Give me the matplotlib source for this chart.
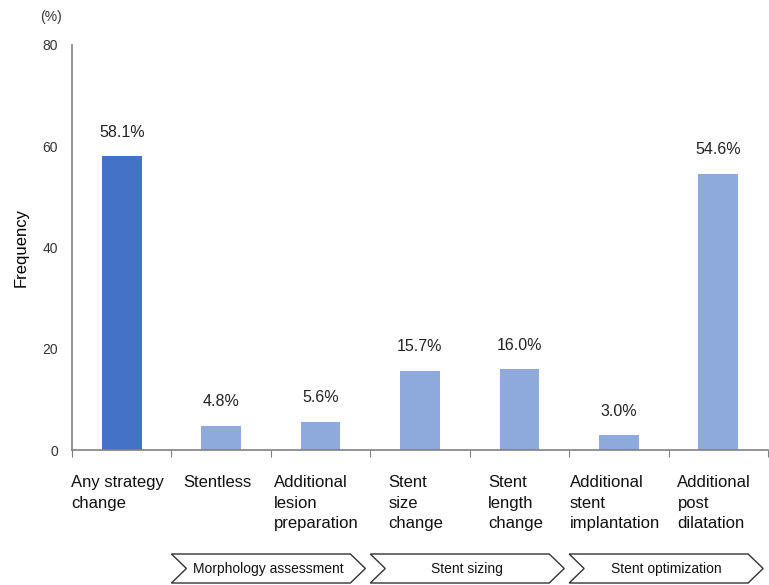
import matplotlib.pyplot as plt
from matplotlib.patches import Polygon
import numpy as np

plt.rcParams['font.family'] = ['Liberation Sans', 'DejaVu Sans']

categories = ["Any strategy\nchange", "Stentless", "Additional\nlesion\npreparation",
              "Stent\nsize\nchange", "Stent\nlength\nchange", "Additional\nstent\nimplantation",
              "Additional\npost\ndilatation"]
values = [58.1, 4.8, 5.6, 15.7, 16.0, 3.0, 54.6]
bar_colors = ["#4472C4"] + ["#8EA9DB"] * 6
groups = ["Morphology assessment", "Stent sizing", "Stent optimization"]
group_start = [1, 3, 5]

fig = plt.figure(figsize=(7.69, 5.85), dpi=100)
ax = fig.add_axes([72 / 769, 135 / 585, 696 / 769, 405 / 585])

x = np.arange(len(values))
ax.bar(x, values, width=0.4, color=bar_colors, zorder=2)
for xi, v in zip(x, values):
    ax.text(xi, v + 3.2, f"{v:.1f}%", ha="center", va="bottom", fontsize=11.5, color="#222222")

ax.set_xlim(-0.5, len(values) - 0.5)
ax.set_ylim(0, 80)
ax.set_yticks([0, 20, 40, 60, 80])
ax.tick_params(axis="y", length=0, pad=10, labelsize=10, labelcolor="#333333")

# category boundaries carry the x tick marks; labels sit under each bar
ax.set_xticks(np.arange(len(values) + 1) - 0.5)
ax.set_xticklabels([])
ax.tick_params(axis="x", direction="out", length=5, color="#808080")
for xi, lab in zip(x, categories):
    ax.text(xi - 0.04, -5, lab, ha="center", va="top", multialignment="left",
            fontsize=12, color="#111111", linespacing=1.45)

for side in ["top", "right"]:
    ax.spines[side].set_visible(False)
for side in ["left", "bottom"]:
    ax.spines[side].set_color("#808080")
    ax.spines[side].set_linewidth(1.2)

ax.set_ylabel("Frequency", fontsize=12, labelpad=10)
ax.text(-0.046, 1.06, "(%)", transform=ax.transAxes, fontsize=10, color="#333333")

# chevron banners grouping the categories
dy = 80 / 405  # data units per pixel
top = -(554 - 450) * dy
bot = -(583 - 450) * dy
mid = (top + bot) / 2
notch = 15 / 99.5
tip = 15 / 99.5
for g, s in zip(groups, group_start):
    left = s - 0.5
    right = s + 1.3
    pts = [(left, top), (right, top), (right + tip, mid), (right, bot),
           (left, bot), (left + notch, mid)]
    ax.add_patch(Polygon(pts, closed=True, facecolor="white", edgecolor="#333333",
                         linewidth=1.0, clip_on=False))
    ax.text((left + notch + right) / 2, mid, g, ha="center", va="center",
            fontsize=10, color="#111111", clip_on=False)

fig.savefig("out.png", dpi=100)
